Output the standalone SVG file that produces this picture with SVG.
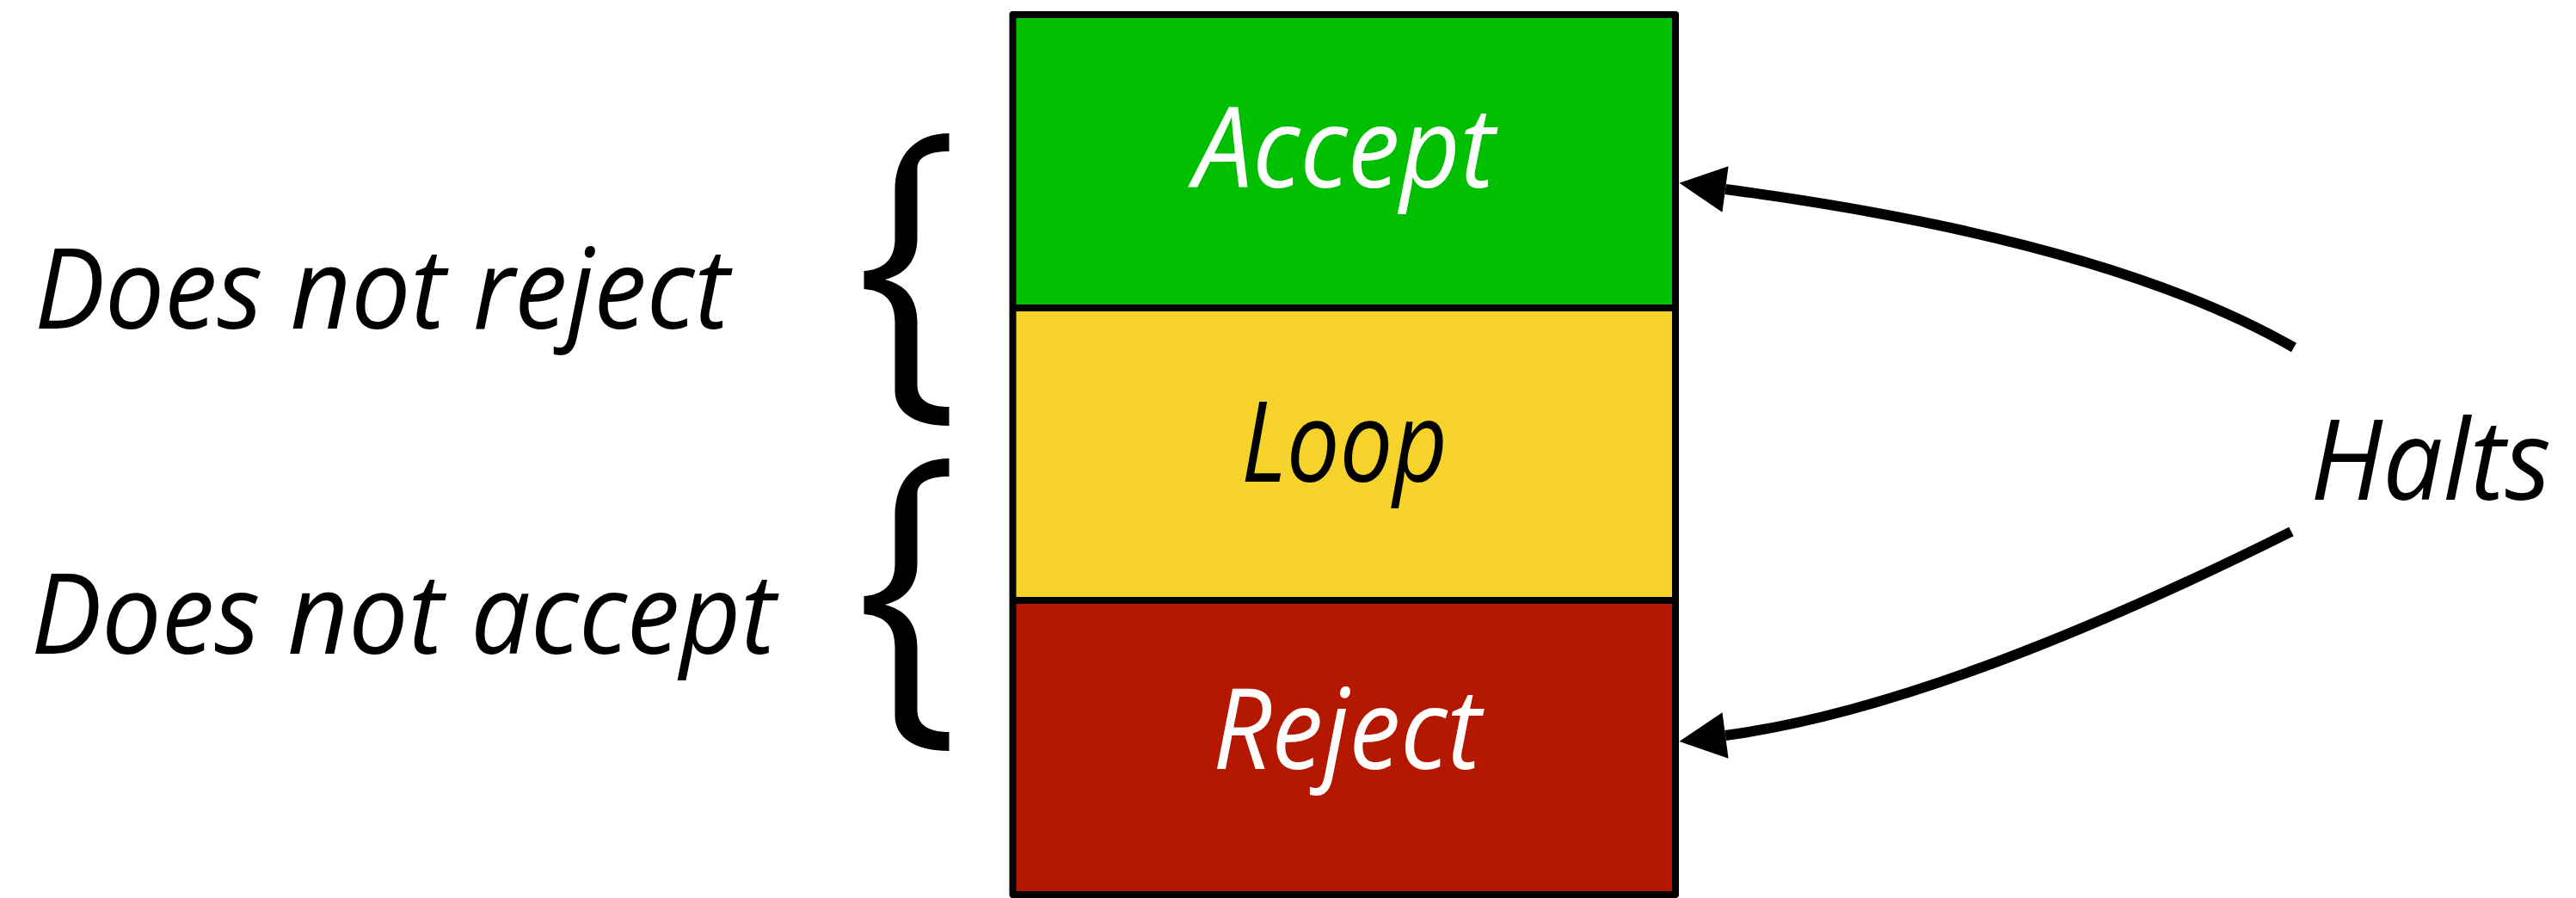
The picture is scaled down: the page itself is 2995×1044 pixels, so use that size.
<svg xmlns="http://www.w3.org/2000/svg" width="2995" height="1044" viewBox="0 0 2995 1044">
  <style>
    .lbl { font-family: "Open Sans", "Liberation Sans", sans-serif; font-style: italic; font-weight: 500; font-size: 130px; }
    .light { fill: #ffffff; }
    .dark { fill: #000000; }
    .edge { fill: none; stroke: #000000; stroke-width: 12; }
    .frame { fill: none; stroke: #000000; stroke-width: 8; stroke-linejoin: round; }
  </style>
  <defs>
    <marker id="head" markerUnits="userSpaceOnUse" markerWidth="60" markerHeight="60" refX="0" refY="0" viewBox="-2 -30 60 60" orient="auto">
      <path d="M0,-27 L54,0 L0,27 Z" fill="#000000"/>
    </marker>
    <path id="brace" d="M99,-170 C60,-170 36,-145 36,-103 L36,-48 C36,-25 25,-12 0,-10 L0,11 C25,13 36,25 36,50 L36,129 C36,155 60,170 99,170 L99,148 C75,148 62,140 62,122 L62,50 C62,22 48,6 24.5,0 C48,-6 62,-22 62,-48 L62,-129 C62,-142 75,-149 99,-149 Z" fill="#000000"/>
  </defs>

  <!-- three stacked outcome regions -->
  <g id="accept">
    <rect x="1177.5" y="17" width="770.5" height="341" fill="#00bf00"/>
    <text class="lbl light" x="1563" y="218" text-anchor="middle" textLength="350" lengthAdjust="spacingAndGlyphs">Accept</text>
  </g>
  <g id="loop">
    <rect x="1177.5" y="358" width="770.5" height="340" fill="#f5d32a"/>
    <text class="lbl dark" x="1563" y="560" text-anchor="middle" textLength="240" lengthAdjust="spacingAndGlyphs">Loop</text>
  </g>
  <g id="reject">
    <rect x="1177.5" y="698" width="770.5" height="342" fill="#b41800"/>
    <text class="lbl light" x="1566" y="894" text-anchor="middle" textLength="312" lengthAdjust="spacingAndGlyphs">Reject</text>
  </g>
  <g id="frame">
    <rect class="frame" x="1177.5" y="17" width="770.5" height="1023"/>
    <line class="frame" x1="1177.5" y1="358" x2="1948" y2="358"/>
    <line class="frame" x1="1177.5" y1="698" x2="1948" y2="698"/>
  </g>

  <!-- left-hand groupings -->
  <g id="not-reject">
    <use href="#brace" transform="translate(1004.5,325)"/>
    <text class="lbl dark" x="40" y="382" textLength="808" lengthAdjust="spacingAndGlyphs">Does not reject</text>
  </g>
  <g id="not-accept">
    <use href="#brace" transform="translate(1004.5,703)"/>
    <text class="lbl dark" x="36" y="760" textLength="866" lengthAdjust="spacingAndGlyphs">Does not accept</text>
  </g>

  <g id="halts">
    <text class="lbl dark" x="2686" y="581" textLength="280" lengthAdjust="spacingAndGlyphs">Halts</text>
  </g>

  <!-- connectors from Halts -->
  <g id="connectors">
    <path class="edge" d="M2667,404 Q2449,279 2006,220" marker-end="url(#head)"/>
    <path class="edge" d="M2664,618 Q2255,822 2006,855" marker-end="url(#head)"/>
  </g>
</svg>
